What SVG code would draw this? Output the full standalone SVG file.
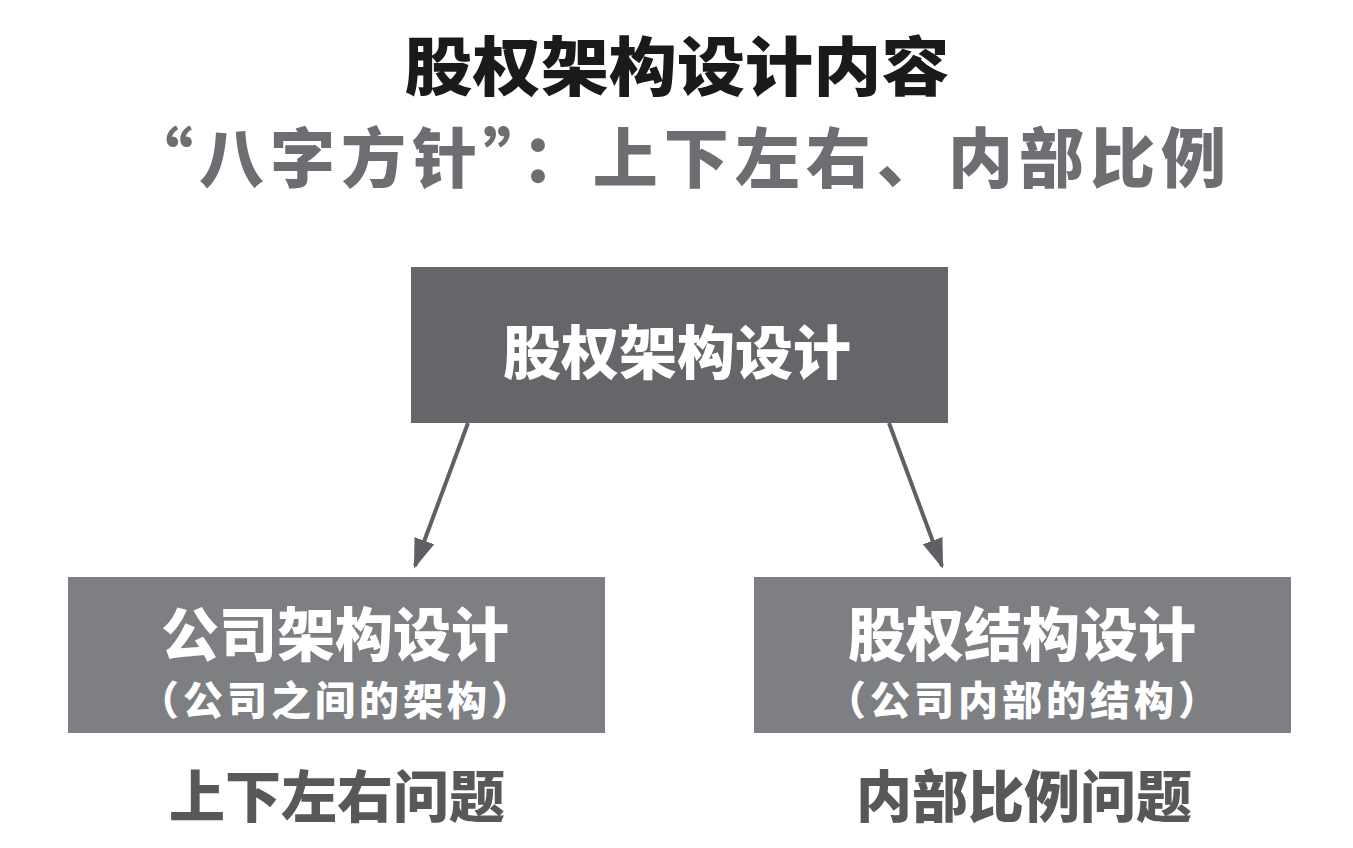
<svg xmlns="http://www.w3.org/2000/svg" width="1353" height="848" viewBox="0 0 1353 848">
<style>
text{font-family:"Noto Sans CJK SC","Noto Sans",sans-serif;font-weight:900;text-anchor:middle}
.title{font-size:64px;fill:#1a1a1a}
.sub{font-size:65px;fill:#6d6e71}
.main{font-size:58px;fill:#ffffff}
.small{font-size:40px;fill:#ffffff}
.lbl{font-size:56px;fill:#58585b}
.conn{stroke:#5f6064;stroke-width:4;fill:none}
</style>
<defs>
<marker id="ah2" viewBox="0 0 10 10" refX="9" refY="5" markerWidth="30" markerHeight="30" markerUnits="userSpaceOnUse" orient="auto">
<path d="M0,1.5 L10,5 L0,8.5 z" fill="#5f6064"/>
</marker>
</defs>
<rect width="1353" height="848" fill="#ffffff"/>
<g id="title">
<text class="title" x="677" y="90" textLength="545" lengthAdjust="spacingAndGlyphs">股权架构设计内容</text>
<text class="sub" x="677" y="182" textLength="1098" lengthAdjust="spacing">“八字方针”：上下左右、内部比例</text>
</g>
<g id="connectors">
<line class="conn" x1="468" y1="423" x2="415" y2="566" marker-end="url(#ah2)"/>
<line class="conn" x1="889" y1="423" x2="942" y2="566" marker-end="url(#ah2)"/>
</g>
<g id="node-top">
<rect x="411" y="267" width="537" height="156" fill="#666569"/>
<text class="main" x="677" y="374">股权架构设计</text>
</g>
<g id="node-left">
<rect x="68" y="577" width="537" height="156" fill="#7e7f82"/>
<text class="main" x="335" y="656">公司架构设计</text>
<text class="small" x="335" y="715" textLength="392" lengthAdjust="spacing">（公司之间的架构）</text>
</g>
<g id="node-right">
<rect x="754" y="577" width="537" height="156" fill="#7e7f82"/>
<text class="main" x="1022" y="656">股权结构设计</text>
<text class="small" x="1022" y="715" textLength="392" lengthAdjust="spacing">（公司内部的结构）</text>
</g>
<g id="label-left">
<text class="lbl" x="337" y="817">上下左右问题</text>
</g>
<g id="label-right">
<text class="lbl" x="1024" y="817">内部比例问题</text>
</g>
</svg>
